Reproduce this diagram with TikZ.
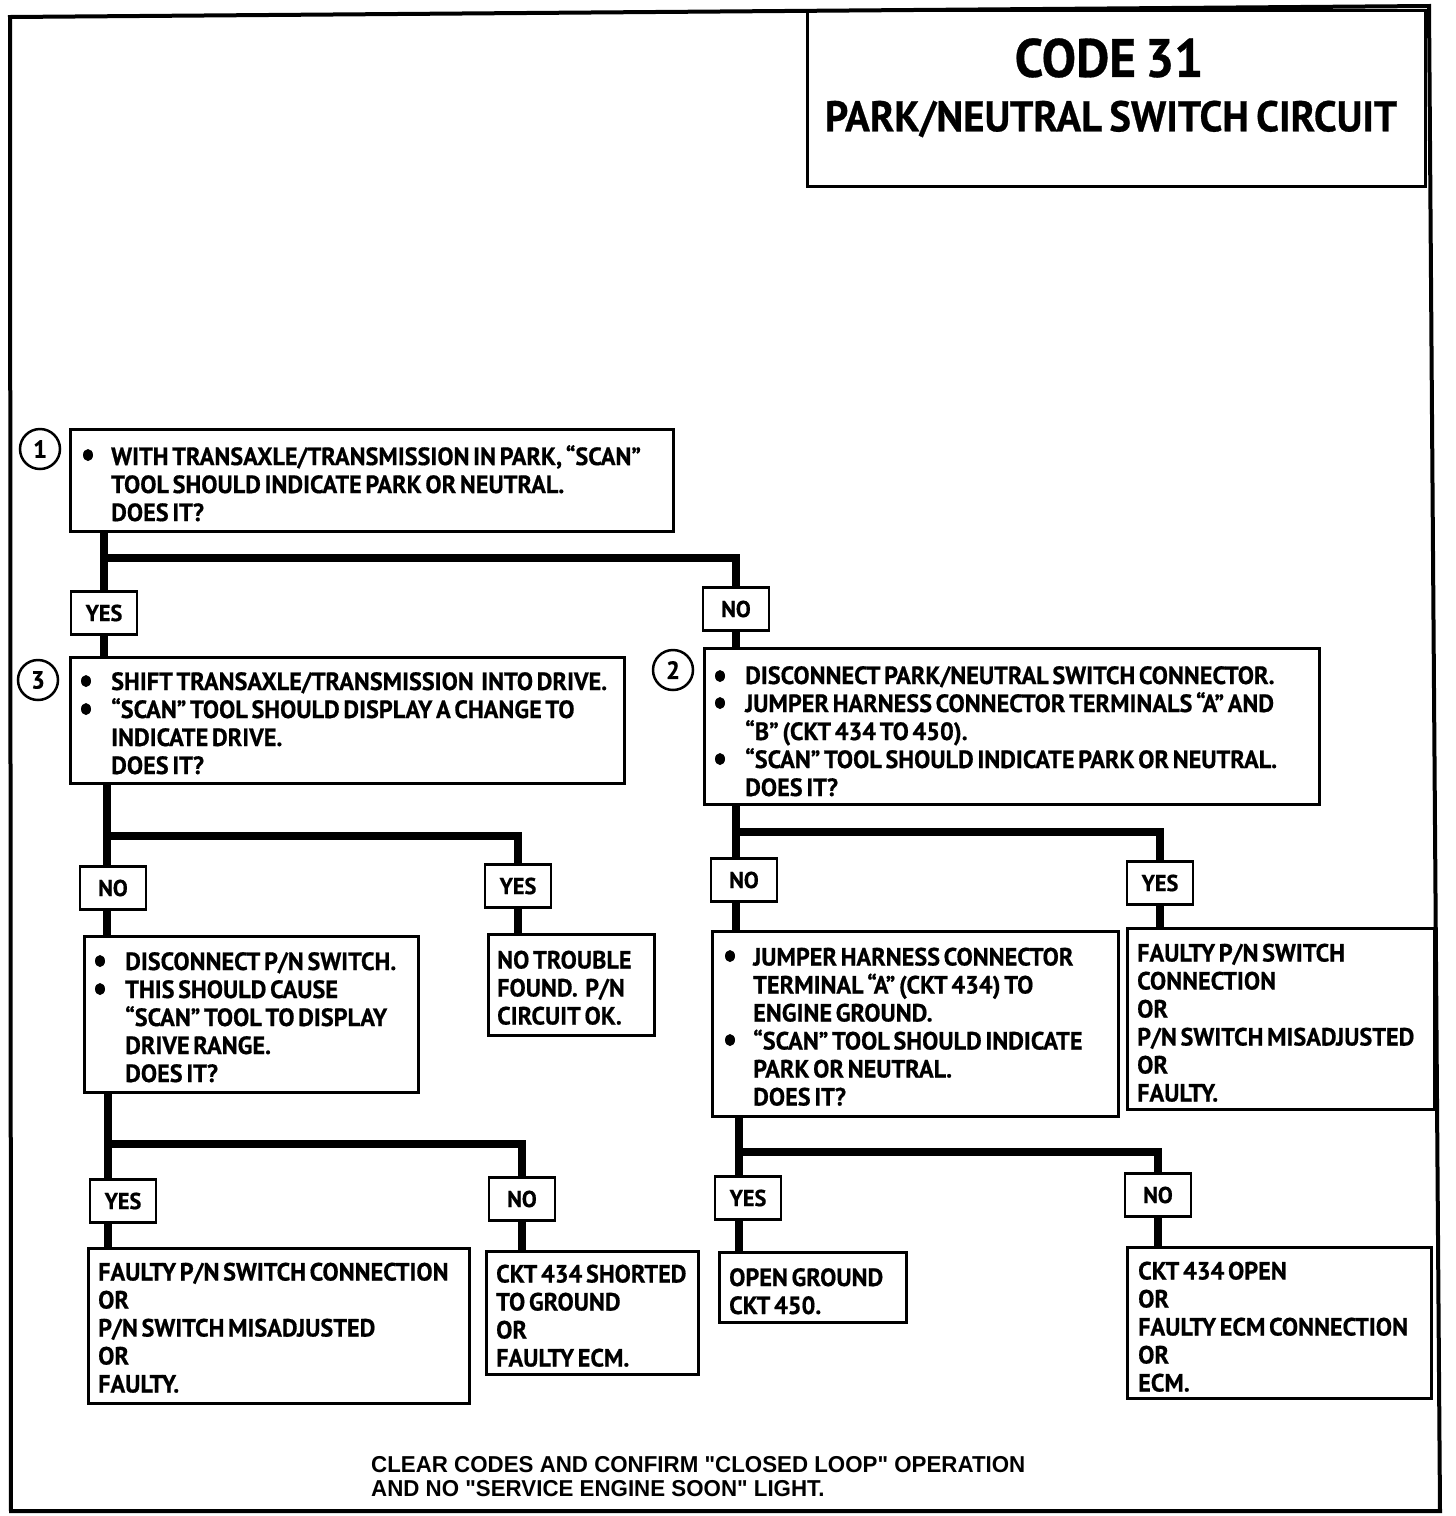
\documentclass[tikz,border=0pt]{standalone}
\usepackage{fontspec}
\newfontfamily\boxfont[FakeStretch=0.97,WordSpace=0.6,Ligatures=TeX,FakeBold=0.6]{PT Sans}
\newfontfamily\titlefont[FakeStretch=0.95,WordSpace=0.7,Ligatures=TeX,FakeBold=0.6]{PT Sans}
\newfontfamily\footfont[FakeStretch=0.97]{Liberation Sans}
\newcommand\ind{\hspace*{31pt}}
\tikzset{
  box/.style={draw, line width=2.5pt, anchor=north west, inner sep=0pt},
  txt/.style={anchor=west, inner sep=0pt, align=left, font=\boxfont\bfseries\fontsize{25}{28}\selectfont},
  lab/.style={draw, line width=2.5pt, fill=white, inner sep=0pt, minimum width=66pt, minimum height=43pt,
    font=\boxfont\bfseries\fontsize{23}{24}\selectfont},
  conn/.style={line width=8pt},
  num/.style={draw, circle, line width=2.5pt, minimum size=40pt, inner sep=0pt,
    font=\boxfont\bfseries\fontsize{25}{26}\selectfont},
  dot/.style={fill=black},
}
\newcommand\bdot[1]{\fill[dot] #1 ellipse [x radius=5pt, y radius=6pt];}
\begin{document}
\begin{tikzpicture}[x=1pt,y=-1pt]
\useasboundingbox (0,0) rectangle (1456,1516);
% frame
\draw[line width=4pt] (10,17) -- (1429,6) -- (1440,1511) -- (11,1511) -- cycle;
% title
\node[draw, line width=2.5pt, anchor=north west, minimum width=618pt, minimum height=176pt, inner sep=0pt] (title) at (806,9) {};
\node[font=\titlefont\bfseries\fontsize{54}{56}\selectfont] (code) at (1109,58) {CODE 31};
\node[font=\titlefont\bfseries\fontsize{43}{46}\selectfont] (sub) at (1111,119) {PARK/NEUTRAL SWITCH CIRCUIT};

% boxes (frames)
\node[box, minimum width=603pt, minimum height=102pt] (b1) at (69,428) {};
\node[box, minimum width=554pt, minimum height=126pt] (b3) at (69,656) {};
\node[box, minimum width=615pt, minimum height=156pt] (b2) at (703,647) {};
\node[box, minimum width=334pt, minimum height=156pt] (b4) at (83,935) {};
\node[box, minimum width=166pt, minimum height=101pt] (b5) at (487,933) {};
\node[box, minimum width=406pt, minimum height=185pt] (b6) at (711,930) {};
\node[box, minimum width=307pt, minimum height=181pt] (b7) at (1126,927) {};
\node[box, minimum width=381pt, minimum height=155pt] (b8) at (87,1247) {};
\node[box, minimum width=212pt, minimum height=123pt] (b9) at (485,1250) {};
\node[box, minimum width=187pt, minimum height=70pt] (b10) at (718,1251) {};
\node[box, minimum width=304pt, minimum height=151pt] (b11) at (1126,1246) {};

% box texts
\node[txt] (t1) at ([xshift=11pt,yshift=-3pt]b1.west)
 {\ind WITH TRANSAXLE/TRANSMISSION IN PARK, ``SCAN''\\\ind TOOL SHOULD INDICATE PARK OR NEUTRAL.\\\ind DOES IT?};
\node[txt] (t3) at ([xshift=11pt,yshift=-3pt]b3.west)
 {\ind SHIFT TRANSAXLE/TRANSMISSION\ \ INTO DRIVE.\\\ind ``SCAN'' TOOL SHOULD DISPLAY A CHANGE TO\\\ind INDICATE DRIVE.\\\ind DOES IT?};
\node[txt] (t2) at ([xshift=11pt,yshift=-5pt]b2.west)
 {\ind DISCONNECT PARK/NEUTRAL SWITCH CONNECTOR.\\\ind JUMPER HARNESS CONNECTOR TERMINALS ``A'' AND\\\ind ``B'' (CKT 434 TO 450).\\\ind ``SCAN'' TOOL SHOULD INDICATE PARK OR NEUTRAL.\\\ind DOES IT?};
\node[txt] (t4) at ([xshift=11pt,yshift=-3pt]b4.west)
 {\ind DISCONNECT P/N SWITCH.\\\ind THIS SHOULD CAUSE\\\ind ``SCAN'' TOOL TO DISPLAY\\\ind DRIVE RANGE.\\\ind DOES IT?};
\node[txt] (t5) at ([xshift=10pt,yshift=-3pt]b5.west)
 {NO TROUBLE\\FOUND.\ \ P/N\\CIRCUIT OK.};
\node[txt] (t6) at ([xshift=11pt,yshift=-3pt]b6.west)
 {\ind JUMPER HARNESS CONNECTOR\\\ind TERMINAL ``A'' (CKT 434) TO\\\ind ENGINE GROUND.\\\ind ``SCAN'' TOOL SHOULD INDICATE\\\ind PARK OR NEUTRAL.\\\ind DOES IT?};
\node[txt] (t7) at ([xshift=11pt,yshift=-4pt]b7.west)
 {FAULTY P/N SWITCH\\CONNECTION\\OR\\P/N SWITCH MISADJUSTED\\OR\\FAULTY.};
\node[txt] (t8) at ([xshift=11pt,yshift=-2pt]b8.west)
 {FAULTY P/N SWITCH CONNECTION\\OR\\P/N SWITCH MISADJUSTED\\OR\\FAULTY.};
\node[txt] (t9) at ([xshift=11pt,yshift=-3pt]b9.west)
 {CKT 434 SHORTED\\TO GROUND\\OR\\FAULTY ECM.};
\node[txt] (t10) at ([xshift=11pt,yshift=-4pt]b10.west)
 {OPEN GROUND\\CKT 450.};
\node[txt] (t11) at ([xshift=12pt,yshift=-4pt]b11.west)
 {CKT 434 OPEN\\OR\\FAULTY ECM CONNECTION\\OR\\ECM.};

% bullets
\bdot{(88,455)}
\bdot{(86,681)} \bdot{(86,709)}
\bdot{(720,676)} \bdot{(720,703)} \bdot{(720,759)}
\bdot{(100,961)} \bdot{(100,989)}
\bdot{(730,956)} \bdot{(730,1040)}

% numbered circles
\node[num] (n1) at (40,449) {1};
\node[num] (n3) at (38,680) {3};
\node[num] (n2) at (673,670) {2};

% junctions
\coordinate (j1) at (104,558);
\coordinate (j3) at (107,836);
\coordinate (j4) at (108,1144);
\coordinate (j2) at (736,832);
\coordinate (j6) at (739,1152);

% labels
\node[lab] (y1) at (104,613) {YES};
\node[lab] (o1) at (736,609) {NO};
\node[lab] (o3) at (113,888) {NO};
\node[lab] (y3) at (518,886) {YES};
\node[lab] (y4) at (123,1201) {YES};
\node[lab] (o4) at (522,1199) {NO};
\node[lab] (o2) at (744,880) {NO};
\node[lab] (y2) at (1160,883) {YES};
\node[lab] (y6) at (748,1198) {YES};
\node[lab] (o6) at (1158,1195) {NO};

% connectors
\draw[conn] (j1 |- b1.south) -- (j1 |- y1.north);
\draw[conn] (j1) -| (o1.north);
\draw[conn] (j1 |- y1.south) -- (j1 |- b3.north);
\draw[conn] (o1.south) -- (o1.south |- b2.north);

\draw[conn] (j3 |- b3.south) -- (j3 |- o3.north);
\draw[conn] (j3) -| (y3.north);
\draw[conn] (j3 |- o3.south) -- (j3 |- b4.north);
\draw[conn] (y3.south) -- (y3.south |- b5.north);

\draw[conn] (j4 |- b4.south) -- (j4 |- y4.north);
\draw[conn] (j4) -| (o4.north);
\draw[conn] (j4 |- y4.south) -- (j4 |- b8.north);
\draw[conn] (o4.south) -- (o4.south |- b9.north);

\draw[conn] (j2 |- b2.south) -- (j2 |- o2.north);
\draw[conn] (j2) -| (y2.north);
\draw[conn] (j2 |- o2.south) -- (j2 |- b6.north);
\draw[conn] (y2.south) -- (y2.south |- b7.north);

\draw[conn] (j6 |- b6.south) -- (j6 |- y6.north);
\draw[conn] (j6) -| (o6.north);
\draw[conn] (j6 |- y6.south) -- (j6 |- b10.north);
\draw[conn] (o6.south) -- (o6.south |- b11.north);

% footer
\node[anchor=north west, align=left, inner sep=0pt, font=\footfont\bfseries\fontsize{23}{24}\selectfont] (foot) at (371,1456)
 {CLEAR CODES AND CONFIRM "CLOSED LOOP" OPERATION\\AND NO "SERVICE ENGINE SOON" LIGHT.};
\end{tikzpicture}
\end{document}
